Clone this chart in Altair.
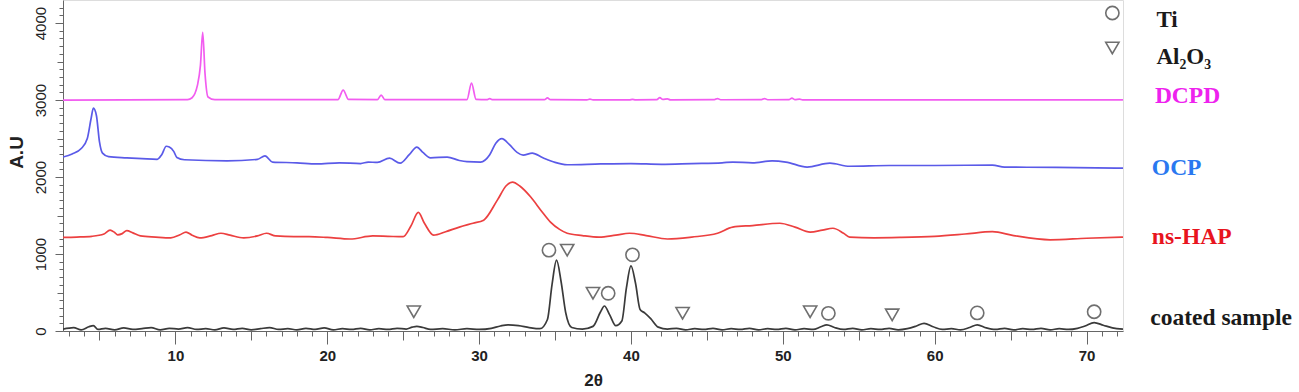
import altair as alt
import pandas as pd

# ---------------- data ----------------
dcpd_x = [2.6, 10.8, 11.1, 11.45, 11.65, 11.8, 11.95, 12.15, 12.6, 20.7, 21.05, 21.4, 23.3, 23.55, 23.8,
          29.2, 29.5, 29.8, 30.5, 30.7, 30.9, 34.3, 34.5, 34.7, 37.1, 37.3, 37.5, 39.9, 40.1, 40.3,
          41.7, 41.9, 42.1, 42.4, 42.6, 45.5, 45.7, 45.9, 48.6, 48.8, 49.0, 50.4, 50.6, 50.8, 51.1, 51.3, 72.4]
dcpd_y = [3000, 3005, 3030, 3190, 3450, 3880, 3350, 3040, 3005, 3005, 3130, 3008, 3005, 3065, 3005,
          3005, 3220, 3010, 3005, 3018, 3005, 3005, 3028, 3005, 3003, 3012, 3003, 3003, 3010, 3003,
          3005, 3032, 3008, 3015, 3003, 3005, 3020, 3004, 3005, 3020, 3004, 3005, 3025, 3006, 3012, 3003, 3002]

ocp_x = [2.6, 3.2, 3.8, 4.2, 4.45, 4.6, 4.8, 5.0, 5.2, 5.6, 6.8, 7.8, 8.8, 9.1, 9.4, 9.6, 9.9, 10.1, 10.6,
         13.4, 15.4, 15.9, 16.4, 18.0, 19.3, 20.8, 22.2, 22.7, 23.3, 24.1, 24.8, 25.4, 25.9, 26.3, 26.8,
         27.9, 28.7, 29.2, 30.1, 30.7, 31.1, 31.5, 32.0, 32.5, 32.9, 33.5, 34.2, 35.0, 35.8, 38.0, 40.0,
         42.0, 44.0, 46.0, 46.7, 48.0, 49.3, 50.2, 51.6, 53.1, 54.4, 57.0, 60.0, 63.8, 64.6, 68.0, 72.4]
ocp_y = [2260, 2300, 2370, 2500, 2760, 2895, 2800, 2460, 2310, 2265, 2250, 2240, 2230, 2290, 2400, 2390, 2330, 2255, 2225,
         2210, 2230, 2275, 2195, 2185, 2170, 2185, 2175, 2195, 2190, 2245, 2180, 2290, 2390, 2320, 2250,
         2260, 2215, 2200, 2195, 2290, 2440, 2500, 2420, 2320, 2285, 2310, 2250, 2190, 2160, 2170, 2175,
         2165, 2175, 2185, 2195, 2185, 2210, 2195, 2130, 2180, 2140, 2150, 2150, 2155, 2130, 2125, 2115]

hap_x = [2.6, 3.5, 4.5, 5.3, 5.7, 6.0, 6.2, 6.5, 6.8, 7.2, 7.7, 8.7, 9.7, 10.3, 10.7, 11.1, 11.6, 12.4, 13.0,
         13.6, 14.5, 15.4, 16.0, 16.6, 17.8, 18.8, 20.0, 21.5, 23.0, 24.0, 25.0, 25.5, 26.0, 26.4, 27.0,
         27.8, 28.7, 29.6, 30.3, 31.2, 31.8, 32.2, 32.7, 33.4, 34.1, 34.7, 35.3, 35.8, 36.8, 37.9, 39.0,
         39.9, 41.0, 42.4, 44.0, 45.7, 46.7, 48.0, 49.8, 50.8, 51.8, 52.6, 53.3, 54.0, 54.4, 56.0, 57.7,
         60.0, 62.0, 63.8, 65.2, 67.6, 70.0, 72.4]
hap_y = [1215, 1220, 1230, 1260, 1310, 1280, 1250, 1265, 1305, 1275, 1235, 1220, 1210, 1250, 1285, 1245, 1210, 1240, 1270,
         1245, 1210, 1235, 1270, 1235, 1225, 1225, 1215, 1195, 1235, 1230, 1225, 1360, 1540, 1400, 1245,
         1290, 1350, 1400, 1440, 1700, 1890, 1935, 1880, 1740, 1560, 1415, 1320, 1270, 1240, 1220, 1245,
         1270, 1240, 1195, 1220, 1270, 1350, 1370, 1400, 1350, 1285, 1310, 1335, 1270, 1220, 1210, 1215,
         1230, 1260, 1290, 1240, 1185, 1205, 1220]

coat_x = [2.6, 3.3, 3.8, 4.3, 4.6, 4.9, 5.4, 6.0, 6.6, 7.2, 7.8, 8.4, 9.0, 9.6, 10.2, 10.8, 11.4, 12.0, 12.6,
          13.2, 13.8, 14.4, 15.0, 15.6, 16.2, 16.8, 17.4, 18.0, 18.6, 19.2, 19.8, 20.4, 21.0, 21.6, 22.2,
          22.8, 23.4, 24.0, 24.6, 25.2, 25.6, 25.9, 26.3, 26.8, 27.6, 28.4, 29.2, 30.0, 30.8, 31.4, 31.9,
          32.6, 33.3, 34.0, 34.5, 34.8, 35.1, 35.4, 35.7, 36.1, 36.8, 37.5, 38.0, 38.25, 38.6, 39.0, 39.4,
          39.7, 40.0, 40.3, 40.6, 40.9, 41.3, 41.8, 42.4, 43.0, 43.6, 44.2, 44.8, 45.4, 46.0, 46.6, 47.2,
          47.8, 48.4, 49.0, 49.6, 50.2, 50.8, 51.4, 52.0, 52.5, 52.9, 53.4, 54.0, 54.6, 55.2, 55.8, 56.4,
          57.0, 57.6, 58.2, 58.8, 59.3, 59.9, 60.5, 61.1, 61.7, 62.3, 62.8, 63.4, 64.0, 64.6, 65.2, 65.8,
          66.4, 67.0, 67.6, 68.2, 68.8, 69.4, 69.9, 70.5, 71.1, 71.7, 72.4]
coat_y = [25, 45, 15, 55, 70, 20, 35, 15, 40, 20, 30, 45, 15, 35, 25, 45, 20, 30, 15,
          40, 20, 35, 15, 30, 45, 20, 30, 15, 35, 20, 40, 15, 30, 20, 35,
          15, 30, 20, 35, 25, 50, 60, 45, 20, 30, 15, 30, 20, 35, 65, 80,
          70, 45, 30, 150, 600, 920, 640, 240, 45, 25, 60, 250, 325, 210, 70, 130,
          560, 845, 620, 280, 235, 160, 50, 25, 35, 15, 30, 20, 35, 15, 30, 20,
          35, 15, 30, 20, 35, 15, 30, 20, 55, 80, 45, 20, 35, 15, 30, 20,
          35, 15, 30, 65, 100, 55, 20, 30, 15, 45, 80, 40, 20, 35, 15, 30,
          20, 35, 15, 30, 20, 35, 65, 110, 75, 40, 25]

ti_x = [34.6, 38.5, 40.1, 53.0, 62.8, 70.5]
ti_y = [1050, 490, 990, 230, 235, 250]
al_x = [25.7, 35.8, 37.5, 43.4, 51.8, 57.2]
al_y = [250, 1050, 490, 230, 250, 210]

series_names = ["DCPD", "OCP", "ns-HAP", "coated sample"]
line_colors = ["#f25cf0", "#5a5ae8", "#ec4040", "#3a3a3a"]
text_colors = ["#ee22ee", "#2a78f0", "#e8141e", "#1a1a1a"]
label_x = [74.5, 74.3, 74.3, 74.2]
label_y = [3050, 2117, 1221, 169]

legend_names = ["Ti", "Al\u2082O\u2083"]
legend_shapes = ["circle", "triangle-down"]
legend_sym_x = [71.7, 71.7]
legend_sym_y = [4131, 3676]
legend_txt_x = [74.6, 74.6]
legend_txt_y = [4040, 3560]

x_tick_values = list(range(3, 73))
y_tick_values = list(range(0, 4300, 100))

# ---------------- tables ----------------
frames = []
for name, xs, ys in zip(series_names, [dcpd_x, ocp_x, hap_x, coat_x], [dcpd_y, ocp_y, hap_y, coat_y]):
    frames.append(pd.DataFrame({"t": xs, "v": ys, "s": name}))
lines_df = pd.concat(frames, ignore_index=True)

marks_df = pd.concat([
    pd.DataFrame({"t": ti_x, "v": ti_y, "shape": "circle"}),
    pd.DataFrame({"t": al_x, "v": al_y, "shape": "triangle-down"}),
    pd.DataFrame({"t": legend_sym_x, "v": legend_sym_y, "shape": legend_shapes}),
], ignore_index=True)

labels_df = pd.DataFrame({"t": label_x, "v": label_y, "txt": series_names, "c": text_colors})
legtxt_df = pd.DataFrame({"t": legend_txt_x, "v": legend_txt_y, "txt": legend_names})

X_DOM = [2.6, 72.4]
Y_DOM = [0, 4300]

xscale = alt.Scale(domain=X_DOM, nice=False, zero=False)
yscale = alt.Scale(domain=Y_DOM, nice=False, zero=False)

x_axis = alt.Axis(
    title="2\u03b8", values=x_tick_values, tickCount=len(x_tick_values) + 10,
    labelExpr="datum.value % 10 === 0 ? datum.label : ''",
    labelOverlap=False,
    tickSize={"condition": [{"test": "datum.value % 10 === 0", "value": 13},
                            {"test": "datum.value % 5 === 0", "value": 9}], "value": 5},
    labelFont="Liberation Sans", labelFontWeight="bold", labelFontSize=15, labelColor="#222",
    labelPadding=4, labelFlush=False,
    titleFont="Liberation Sans", titleFontWeight="bold", titleFontSize=17, titleColor="#222",
    titlePadding=9,
    domainColor="#666", tickColor="#666", grid=False,
)
y_axis = alt.Axis(
    title="A.U", values=y_tick_values, tickCount=len(y_tick_values) + 10,
    labelExpr="datum.value % 1000 === 0 ? datum.label : ''",
    labelOverlap=False,
    format="d",
    tickSize={"condition": [{"test": "datum.value % 1000 === 0", "value": 8},
                            {"test": "datum.value % 500 === 0", "value": 6}], "value": 4},
    labelAngle=-90, labelAlign="center", labelBaseline="bottom",
    labelFont="Liberation Sans", labelFontSize=15, labelColor="#222", labelPadding=7,
    labelFlush=False,
    titleFont="Liberation Sans", titleFontWeight="bold", titleFontSize=19, titleColor="#222",
    titlePadding=7, titleY=152,
    domainColor="#666", tickColor="#666", grid=False,
)

lines = alt.Chart(lines_df).mark_line(strokeWidth=1.7, clip=True, interpolate="monotone").encode(
    x=alt.X("t:Q", scale=xscale, axis=x_axis),
    y=alt.Y("v:Q", scale=yscale, axis=y_axis),
    color=alt.Color("s:N", scale=alt.Scale(domain=series_names, range=line_colors), legend=None),
    detail="s:N",
)

points = alt.Chart(marks_df).mark_point(filled=False, stroke="#333", strokeWidth=1.6, size=175).encode(
    x=alt.X("t:Q", scale=xscale),
    y=alt.Y("v:Q", scale=yscale),
    shape=alt.Shape("shape:N", scale=alt.Scale(domain=["circle", "triangle-down"],
                                               range=["circle", "triangle-down"]), legend=None),
)

series_text = alt.Chart(labels_df).mark_text(
    align="left", baseline="middle", font="Liberation Serif", fontWeight="bold", fontSize=23.5
).encode(
    x=alt.X("t:Q", scale=xscale),
    y=alt.Y("v:Q", scale=yscale),
    text="txt:N",
    fill=alt.Fill("c:N", scale=None),
)

legend_text = alt.Chart(legtxt_df).mark_text(
    align="left", baseline="middle", font="Liberation Serif", fontWeight="bold", fontSize=23, color="#1a1a1a"
).encode(
    x=alt.X("t:Q", scale=xscale),
    y=alt.Y("v:Q", scale=yscale),
    text="txt:N",
)

chart = alt.layer(lines, points, series_text, legend_text).properties(
    width=1060, height=331,
    autosize=alt.AutoSizeParams(type="none"),
    padding={"left": 63, "top": 0, "right": 176, "bottom": 61},
).configure_view(stroke=None).configure(background="white")

chart.save("out.html", embed_options={"renderer": "svg", "actions": False})
